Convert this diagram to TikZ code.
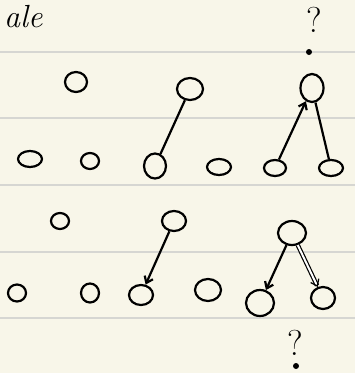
\documentclass[tikz,border=0pt]{standalone}
\usepackage{tikz}
\usetikzlibrary{arrows.meta, shapes.geometric}
\definecolor{paper}{HTML}{F8F6E9}
\definecolor{rule}{HTML}{D6D6D2}

\begin{document}
\begin{tikzpicture}[x=1pt, y=-1pt,
    nd/.style={draw, ellipse, line width=2.2pt, inner sep=0pt, minimum width=22pt, minimum height=20pt},
    sm/.style={nd, minimum width=18pt, minimum height=16pt},
    link/.style={line width=2.2pt},
    arr/.style={link, -{Straight Barb[length=6pt, width=9pt]}},
    qm/.style={font=\fontsize{36}{36}\selectfont}
]
\useasboundingbox (0,0) rectangle (355,373);
\clip (0,0) rectangle (355,373);
\fill[paper] (0,0) rectangle (355,373);
% ruled lines
\foreach \y in {52,118,185,252,318}
  \draw[rule, line width=1.2pt] (0,\y) -- (355,\y);
\node[font=\fontsize{32}{32}\selectfont, anchor=base west, inner sep=0pt] (title) at (4,27) {\itshape ale};

% upper tree
\node[qm] (q1) at (314,20) {?};
\fill (309,52) circle (3pt);
\node[nd] (a1) at (76,82) {};
\node[nd, minimum width=26pt, minimum height=22pt] (a2) at (190,89) {};
\node[nd, minimum width=23pt, minimum height=28pt] (a3) at (312,88) {};
\node[sm, minimum width=24pt] (b1) at (30,159) {};
\node[sm] (b2) at (90,161) {};
\node[nd, minimum height=25pt] (b3) at (155,166) {};
\node[sm, minimum width=24pt] (b4) at (219,167) {};
\node[sm, minimum width=22pt] (b5) at (275,168) {};
\node[sm, minimum width=24pt] (b6) at (331,168) {};
\draw[link] (a2) -- (b3);
\draw[arr] (b5) -- (a3);
\draw[link] (a3) -- (b6);

% lower tree
\node[sm] (c1) at (60,221) {};
\node[nd, minimum width=24pt] (c2) at (174,221) {};
\node[nd, minimum width=28pt, minimum height=24pt] (c3) at (292,233) {};
\node[sm, minimum height=17pt] (d1) at (17,293) {};
\node[sm, minimum height=19pt] (d2) at (90,293) {};
\node[nd, minimum width=24pt] (d3) at (141,295) {};
\node[nd, minimum width=26pt, minimum height=22pt] (d4) at (208,290) {};
\node[nd, minimum width=28pt, minimum height=26pt] (d5) at (260,303) {};
\node[nd, minimum width=24pt, minimum height=22pt] (d6) at (323,298) {};
\draw[arr] (c2) -- (d3);
\draw[arr] (c3) -- (d5);
\draw[arr, double, double distance=2pt, line width=1.2pt] (c3) -- (d6);
\node[qm] (q2) at (295,343) {?};
\fill (296,366) circle (3pt);
\end{tikzpicture}
\end{document}
